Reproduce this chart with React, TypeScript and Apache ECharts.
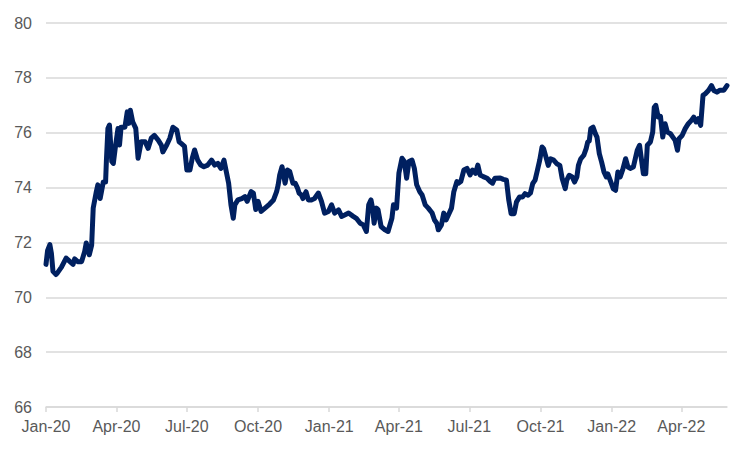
import React, { useEffect, useRef } from "react";
import * as echarts from "echarts";

// Observation day (days since 1 Jan 2020) and index value
const dayOffsets = [
  0, 2, 5, 7, 9, 13, 15, 20, 26, 31, 35, 37, 41, 46, 50, 52, 56, 59, 61, 65, 67, 70, 74, 77, 78, 80, 82, 85, 87, 90,
  93, 95, 97, 102, 105, 107, 109, 112, 116, 119, 123, 128, 132, 136, 140, 145, 149, 151, 156, 160, 164, 169, 172, 175,
  179, 182, 186, 189, 192, 196, 200, 204, 209, 214, 218, 222, 226, 230, 233, 236, 239, 242, 244, 248, 253, 257, 260,
  265, 268, 271, 274, 278, 283, 289, 294, 298, 300, 302, 305, 309, 312, 315, 319, 322, 325, 327, 330, 332, 336, 339,
  343, 347, 352, 356, 360, 365, 369, 373, 378, 382, 386, 391, 397, 401, 406, 410, 414, 417, 420, 422, 424, 427, 429,
  433, 438, 442, 447, 449, 453, 456, 460, 463, 466, 469, 473, 476, 479, 483, 486, 490, 494, 499, 502, 505, 507, 511,
  514, 517, 520, 524, 527, 531, 533, 536, 540, 544, 548, 551, 555, 558, 561, 565, 570, 574, 577, 580, 587, 591, 595,
  598, 601, 605, 608, 612, 616, 619, 623, 626, 629, 632, 635, 638, 641, 643, 646, 649, 652, 656, 660, 664, 667, 671,
  673, 676, 680, 683, 686, 688, 691, 695, 698, 700, 702, 704, 707, 710, 712, 715, 718, 721, 724, 726, 729, 733, 736,
  739, 742, 745, 749, 752, 755, 759, 764, 767, 769, 772, 775, 777, 781, 784, 786, 788, 791, 794, 797, 800, 803, 807,
  810, 813, 816, 818, 822, 826, 830, 834, 837, 840, 843, 846, 849, 852, 856, 860, 863, 867, 871, 876, 880,
];

const values = [
  71.2, 71.7, 71.92, 71.6, 70.95, 70.83, 70.9, 71.1, 71.43, 71.3, 71.2, 71.4, 71.3, 71.3, 71.67, 71.98, 71.55, 71.9,
  73.25, 73.85, 74.1, 73.6, 74.2, 74.2, 74.95, 76.15, 76.28, 74.95, 74.88, 75.55, 76.15, 75.55, 76.2, 76.2, 76.76,
  76.34, 76.82, 76.4, 76.16, 75.07, 75.67, 75.67, 75.43, 75.8, 75.9, 75.73, 75.55, 75.3, 75.55, 75.8, 76.2, 76.1,
  75.67, 75.6, 75.5, 74.64, 74.64, 75.07, 75.37, 75.0, 74.82, 74.76, 74.82, 75.0, 74.82, 74.88, 74.7, 75.0, 74.58,
  74.16, 73.37, 72.88, 73.37, 73.55, 73.6, 73.67, 73.5, 73.85, 73.8, 73.2, 73.5, 73.13, 73.25, 73.4, 73.55, 73.85,
  74.1, 74.46, 74.76, 74.16, 74.64, 74.58, 74.16, 74.16, 73.98, 73.8, 73.73, 73.6, 73.85, 73.55, 73.55, 73.6, 73.8,
  73.5, 73.07, 73.13, 73.37, 73.07, 73.19, 72.95, 73.0, 73.07, 72.95, 72.88, 72.7, 72.64, 72.4, 73.37, 73.55, 73.25,
  72.7, 73.25, 73.2, 72.58, 72.46, 72.4, 72.88, 73.37, 73.25, 74.52, 75.07, 74.95, 74.34, 74.95, 75.0, 74.7, 74.1,
  73.85, 73.73, 73.37, 73.25, 73.07, 72.82, 72.7, 72.46, 72.64, 73.07, 72.82, 73.0, 73.25, 73.85, 74.22, 74.16,
  74.22, 74.64, 74.7, 74.46, 74.64, 74.52, 74.82, 74.46, 74.4, 74.34, 74.22, 74.16, 74.34, 74.35, 74.3, 74.27,
  73.54, 73.05, 73.05, 73.48, 73.66, 73.66, 73.78, 73.72, 73.8, 74.15, 74.27, 74.63, 75.0, 75.48, 75.42, 75.12,
  74.81, 75.05, 75.0, 74.87, 74.81, 74.33, 73.96, 74.27, 74.45, 74.39, 74.2, 74.39, 74.81, 75.05, 75.18, 75.42,
  75.66, 75.7, 76.15, 76.2, 75.96, 75.84, 75.24, 74.93, 74.57, 74.39, 74.5, 74.27, 73.96, 73.9, 74.57, 74.39, 74.63,
  75.05, 74.75, 74.7, 74.75, 75.36, 75.54, 75.12, 74.5, 74.5, 75.54, 75.66, 76.02, 76.93, 77.0, 76.57, 76.6, 75.84,
  76.33, 76.02, 75.96, 75.84, 75.72, 75.36, 75.78, 75.9, 76.15, 76.33, 76.45, 76.57, 76.39, 76.51, 76.27, 77.36,
  77.42, 77.54, 77.72, 77.54, 77.48, 77.55, 77.55, 77.72,
];

const tickDates = [
  "2020-01-01", "2020-04-01", "2020-07-01", "2020-10-01", "2021-01-01",
  "2021-04-01", "2021-07-01", "2021-10-01", "2022-01-01", "2022-04-01",
];
const tickLabels = [
  "Jan-20", "Apr-20", "Jul-20", "Oct-20", "Jan-21", "Apr-21", "Jul-21", "Oct-21", "Jan-22", "Apr-22",
];

const START = Date.UTC(2020, 0, 1);
const DAY = 86400000;
const toOffset = (iso: string) => {
  const [y, m, d] = iso.split("-").map(Number);
  return Math.round((Date.UTC(y, m - 1, d) - START) / DAY);
};

export default function App() {
  const ref = useRef<HTMLDivElement>(null);

  useEffect(() => {
    if (!ref.current) return;
    const chart = echarts.init(ref.current, undefined, { renderer: "svg" });
    const tickOffsets = tickDates.map(toOffset);
    const labelMap: Record<number, string> = {};
    tickOffsets.forEach((o, i) => (labelMap[o] = tickLabels[i]));
    const font = "'Liberation Sans', Arial, sans-serif";

    chart.setOption({
      animation: false,
      backgroundColor: "#ffffff",
      grid: { left: 46, right: 23, top: 23, bottom: 43, containLabel: false },
      xAxis: {
        type: "value",
        min: 0,
        max: dayOffsets[dayOffsets.length - 1],
        splitLine: { show: false },
        axisLine: { show: true, lineStyle: { color: "#d9d9d9", width: 1.5 } },
        axisTick: {
          show: true,
          customValues: tickOffsets,
          length: 5,
          lineStyle: { color: "#d9d9d9", width: 1.5 },
        },
        axisLabel: {
          customValues: tickOffsets,
          formatter: (v: number) => labelMap[Math.round(v)] ?? "",
          color: "#595959",
          fontSize: 16,
          fontFamily: font,
          margin: 11,
        },
      },
      yAxis: {
        type: "value",
        min: 66,
        max: 80,
        interval: 2,
        axisLine: { show: false },
        axisTick: { show: false },
        splitLine: { show: true, lineStyle: { color: "#d9d9d9", width: 1.5 } },
        axisLabel: {
          color: "#595959",
          fontSize: 16,
          fontFamily: font,
          margin: 14,
        },
      },
      series: [
        {
          type: "line",
          data: dayOffsets.map((d, i) => [d, values[i]]),
          showSymbol: false,
          symbol: "none",
          lineStyle: { color: "#002060", width: 5, join: "round", cap: "round" },
          z: 3,
        },
      ],
    });
    return () => chart.dispose();
  }, []);

  return (
    <div
      ref={ref}
      style={{ position: "absolute", left: 0, top: 0, width: 750, height: 450 }}
    />
  );
}
